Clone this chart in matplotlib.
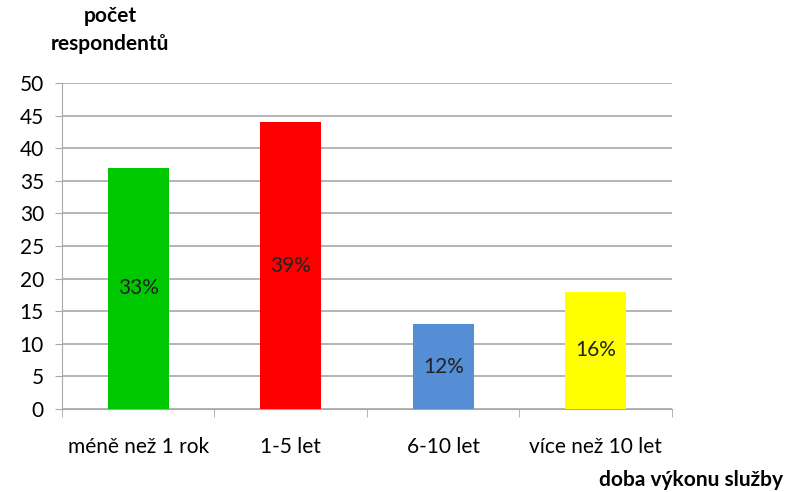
import numpy as np
import matplotlib.pyplot as plt
from matplotlib.ticker import FixedLocator

# data
categories = ['méně než 1 rok', '1-5 let', '6-10 let', 'více než 10 let']
counts = [37, 44, 13, 18]
percents = ['33%', '39%', '12%', '16%']
colors = ['#00c800', '#ff0000', '#558ed5', '#ffff00']

plt.rcParams['font.family'] = ['Lato', 'DejaVu Sans']

fig = plt.figure(figsize=(7.86, 4.92), dpi=100)
ax = fig.add_axes([0.0789, 0.1687, 0.776, 0.6626])

x = np.arange(len(categories))
bars = ax.bar(x, counts, width=0.4, color=colors, zorder=3)

# percentage labels in middle of bars
for b, p in zip(bars, percents):
    ax.text(b.get_x() + b.get_width()/2, b.get_height()/2, p,
            ha='center', va='center', fontsize=15, color='#222222', zorder=4)

ax.set_xlim(-0.5, len(categories) - 0.5)
ax.set_ylim(0, 50)
ax.set_yticks(np.arange(0, 51, 5))
ax.yaxis.grid(True, color='#a8a8a8', linewidth=1.2, zorder=0)

ax.set_xticks(x)
ax.set_xticklabels(categories)
ax.xaxis.set_minor_locator(FixedLocator(np.arange(-0.5, len(categories), 1)))
ax.tick_params(axis='x', which='major', length=0, pad=20, labelsize=15)
ax.tick_params(axis='x', which='minor', length=6, color='#a8a8a8')
ax.tick_params(axis='y', length=5, color='#a8a8a8', labelsize=15, pad=8)

for s in ['top', 'right']:
    ax.spines[s].set_visible(False)
ax.spines['left'].set_color('#a8a8a8')
ax.spines['bottom'].set_color('#a8a8a8')

fig.text(110/786, 1 - 30/492, 'počet\nrespondentů', ha='center', va='center',
         fontsize=15, fontweight='bold', linespacing=1.55)
fig.text(783/786, 1 - 480/492, 'doba výkonu služby', ha='right', va='center',
         fontsize=15, fontweight='bold')

fig.savefig('out.png', dpi=100)
